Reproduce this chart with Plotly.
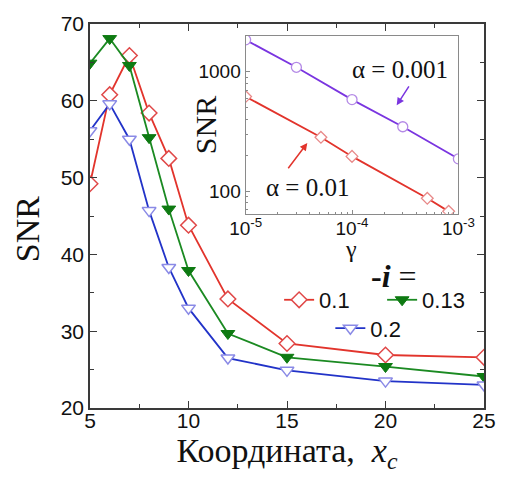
import plotly.graph_objects as go

# Main panel data
x_coord = [5, 6, 7, 8, 9, 10, 12, 15, 20, 25]
snr_i01 = [49.2, 60.8, 65.9, 58.4, 52.5, 43.8, 34.2, 28.4, 26.9, 26.6]
snr_i013 = [64.9, 68.1, 64.6, 55.2, 45.9, 37.9, 29.7, 26.6, 25.4, 24.1]
snr_i02 = [56.1, 59.6, 55.0, 45.7, 38.3, 33.0, 26.5, 24.9, 23.5, 23.0]
series_names = ["0.1", "0.13", "0.2"]

# Inset data
gamma_a0001 = [1e-5, 3e-5, 1e-4, 3e-4, 1e-3]
snr_a0001 = [1850, 1090, 585, 347, 187]
gamma_a001 = [1e-5, 5.1e-5, 1e-4, 5.1e-4, 8.1e-4]
snr_a001 = [620, 283, 196, 87.5, 68]

inset_xticks = [1e-5, 1e-4, 1e-3]
inset_xticktext = ["10<sup>-5</sup>", "10<sup>-4</sup>", "10<sup>-3</sup>"]
inset_yticks = [100, 1000]

SANS = "Liberation Sans"
SERIF = "Liberation Serif"
RED = "#e2342c"
GREEN = "#1b8a22"
BLUE = "#2233c8"
PURPLE = "#7a35e0"

fig = go.Figure()

fig.add_trace(go.Scatter(
    x=x_coord, y=snr_i01, name=series_names[0], mode="lines+markers",
    line=dict(color=RED, width=1.8),
    marker=dict(symbol="diamond", size=12, color="white", line=dict(color="#e04848", width=1.5)),
    legend="legend", cliponaxis=True))
fig.add_trace(go.Scatter(
    x=x_coord, y=snr_i013, name=series_names[1], mode="lines+markers",
    line=dict(color=GREEN, width=1.8),
    marker=dict(symbol="triangle-down", size=12, color="#0e7a12", line=dict(color="#0e7a12", width=1)),
    legend="legend", cliponaxis=True))
fig.add_trace(go.Scatter(
    x=x_coord, y=snr_i02, name=series_names[2], mode="lines+markers",
    line=dict(color=BLUE, width=1.8),
    marker=dict(symbol="triangle-down", size=12, color="white", line=dict(color="#8a8ae6", width=1.5)),
    legend="legend2", cliponaxis=True))

fig.add_trace(go.Scatter(
    x=gamma_a0001, y=snr_a0001, mode="lines+markers", showlegend=False,
    line=dict(color=PURPLE, width=1.8),
    marker=dict(symbol="circle", size=10, color="white", line=dict(color="#b48ae6", width=1.3)),
    xaxis="x2", yaxis="y2", cliponaxis=True))
fig.add_trace(go.Scatter(
    x=gamma_a001, y=snr_a001, mode="lines+markers", showlegend=False,
    line=dict(color=RED, width=1.8),
    marker=dict(symbol="diamond", size=9, color="white", line=dict(color="#e88a8a", width=1.3)),
    xaxis="x2", yaxis="y2", cliponaxis=True))

axis_common = dict(showline=True, linecolor="#3a3a3a", linewidth=1.5, showgrid=False,
                   zeroline=False, ticks="inside", tickcolor="#3a3a3a", tickwidth=1.3)

fig.update_layout(
    width=512, height=484,
    margin=dict(l=90, r=22, t=17, b=76),
    paper_bgcolor="white", plot_bgcolor="white",
    xaxis=dict(**axis_common, range=[5, 25], dtick=5, ticklen=7, mirror="allticks",
               minor=dict(dtick=2.5, ticks="inside", ticklen=4, tickcolor="#3a3a3a"),
               tickfont=dict(family=SANS, size=21, color="#111"), ticklabelstandoff=-7,
               title=dict(text="Координата,  <i>x</i><sub><i>c</i></sub>",
                          font=dict(family=SERIF, size=34, color="#111"), standoff=0)),
    yaxis=dict(**axis_common, range=[20, 70], dtick=10, ticklen=7, mirror="allticks",
               minor=dict(dtick=5, ticks="inside", ticklen=4, tickcolor="#3a3a3a"),
               tickfont=dict(family=SANS, size=21, color="#111")),
    xaxis2=dict(showline=True, linecolor="#8a8a8a", linewidth=1.2, mirror=True, showgrid=False,
                zeroline=False, type="log", range=[-5, -3], domain=[0.395, 0.935], anchor="y2",
                ticks="inside", ticklen=4, tickcolor="#8a8a8a",
                tickvals=inset_xticks, ticktext=inset_xticktext,
                minor=dict(ticks="inside", ticklen=2, tickcolor="#8a8a8a", dtick="D1"),
                tickfont=dict(family=SANS, size=19, color="#111"), ticklabelstandoff=-3),
    yaxis2=dict(showline=True, linecolor="#8a8a8a", linewidth=1.2, mirror=True, showgrid=False,
                zeroline=False, type="log", range=[1.813, 3.30], domain=[0.506, 0.969], anchor="x2",
                ticks="inside", ticklen=4, tickcolor="#8a8a8a", tickvals=inset_yticks,
                minor=dict(ticks="inside", ticklen=2, tickcolor="#8a8a8a", dtick="D1"),
                tickfont=dict(family=SANS, size=19, color="#111")),
    legend=dict(x=0.48, y=0.336, xanchor="left", yanchor="top", orientation="h",
                bgcolor="rgba(0,0,0,0)", font=dict(family=SANS, size=22, color="#111"),
                entrywidth=58, tracegroupgap=0),
    legend2=dict(x=0.61, y=0.262, xanchor="left", yanchor="top", orientation="h",
                 bgcolor="rgba(0,0,0,0)", font=dict(family=SANS, size=22, color="#111")),
)

# axis titles / labels as annotations in paper coordinates
def label(text, x, y, size, angle=0):
    fig.add_annotation(text=text, x=x, y=y, xref="paper", yref="paper", textangle=angle,
                       xanchor="center", yanchor="middle", showarrow=False,
                       font=dict(family=SERIF, size=size, color="#111"))

label("SNR", -0.16, 0.4655, 34, -90)
label("SNR", 0.295, 0.737, 30, -90)
label("γ", 0.6625, 0.414, 24)
label("<b>-<i>i</i></b> =", 0.7725, 0.345, 32)

# inset labels and arrows (inset log coordinates)
fig.add_annotation(text="α = 0.001", x=-3.55, y=3.02, xref="x2", yref="y2", showarrow=False,
                   xanchor="center", yanchor="middle",
                   font=dict(family=SERIF, size=25, color="#111"))
fig.add_annotation(text="α = 0.01", x=-4.42, y=2.03, xref="x2", yref="y2", showarrow=False,
                   xanchor="center", yanchor="middle",
                   font=dict(family=SERIF, size=25, color="#111"))
fig.add_annotation(x=-3.58, y=2.72, xref="x2", yref="y2", ax=-3.456, ay=2.89,
                   axref="x2", ayref="y2", text="", showarrow=True, arrowhead=2,
                   arrowsize=1, arrowwidth=1.5, arrowcolor=PURPLE)
fig.add_annotation(x=-4.42, y=2.405, xref="x2", yref="y2", ax=-4.61, ay=2.18,
                   axref="x2", ayref="y2", text="", showarrow=True, arrowhead=2,
                   arrowsize=1, arrowwidth=1.5, arrowcolor=RED)

fig.write_html("out.html")
